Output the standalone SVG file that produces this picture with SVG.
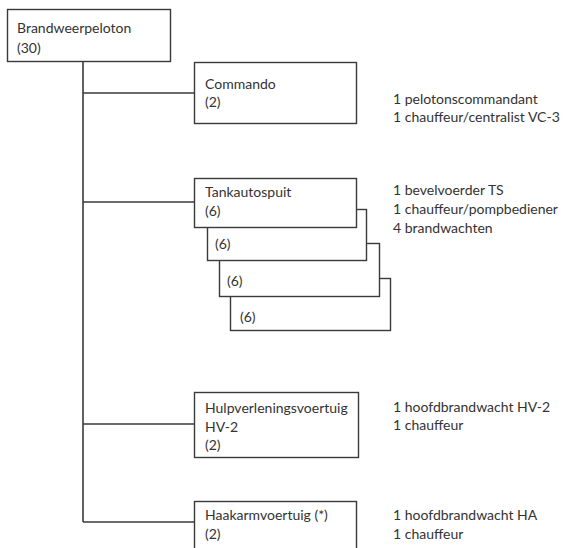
<svg xmlns="http://www.w3.org/2000/svg" width="563" height="548" viewBox="0 0 563 548">
  <style>
    .box { fill: #ffffff; stroke: #3a3a3a; stroke-width: 1.4; }
    .wire { fill: none; stroke: #3a3a3a; stroke-width: 1.6; }
    text { font-family: "Lato", "Open Sans", "Liberation Sans", sans-serif; font-size: 14px; fill: #333333; }
  </style>
  <rect width="563" height="548" fill="#ffffff"/>

  <!-- connectors: trunk from the platoon box and one branch per unit -->
  <g id="connectors">
    <path class="wire" d="M83 61 V522"/>
    <path class="wire" d="M83 93 H194.5"/>
    <path class="wire" d="M83 202 H194.5"/>
    <path class="wire" d="M83 424 H194.5"/>
    <path class="wire" d="M83 522 H194.5"/>
  </g>

  <g id="brandweerpeloton">
    <rect class="box" x="7.5" y="9.5" width="163" height="52"/>
    <text x="17" y="33">Brandweerpeloton</text>
    <text x="17" y="53">(30)</text>
  </g>

  <g id="commando">
    <rect class="box" x="194.5" y="62.5" width="162" height="61"/>
    <text x="205" y="89">Commando</text>
    <text x="205" y="107">(2)</text>
    <text x="393" y="104">1 pelotonscommandant</text>
    <text x="393" y="122">1 chauffeur/centralist VC-3</text>
  </g>

  <!-- four tank units, drawn back to front -->
  <g id="tankautospuit">
    <rect class="box" x="230.5" y="278.5" width="160" height="52"/>
    <text x="240" y="322">(6)</text>
    <rect class="box" x="219.5" y="243.5" width="160" height="53"/>
    <text x="227" y="286">(6)</text>
    <rect class="box" x="207.5" y="209.5" width="159" height="51"/>
    <text x="215" y="249">(6)</text>
    <rect class="box" x="194.5" y="178.5" width="162" height="49"/>
    <text x="205" y="197">Tankautospuit</text>
    <text x="205" y="216">(6)</text>
    <text x="393" y="195">1 bevelvoerder TS</text>
    <text x="393" y="214">1 chauffeur/pompbediener</text>
    <text x="393" y="233">4 brandwachten</text>
  </g>

  <g id="hulpverleningsvoertuig">
    <rect class="box" x="194.5" y="392.5" width="164" height="65"/>
    <text x="205" y="413">Hulpverleningsvoertuig</text>
    <text x="205" y="432">HV-2</text>
    <text x="205" y="450">(2)</text>
    <text x="393" y="412">1 hoofdbrandwacht HV-2</text>
    <text x="393" y="430">1 chauffeur</text>
  </g>

  <g id="haakarmvoertuig">
    <rect class="box" x="194.5" y="501.5" width="162" height="60"/>
    <text x="205" y="520">Haakarmvoertuig (*)</text>
    <text x="205" y="539">(2)</text>
    <text x="393" y="520">1 hoofdbrandwacht HA</text>
    <text x="393" y="539">1 chauffeur</text>
  </g>
</svg>
